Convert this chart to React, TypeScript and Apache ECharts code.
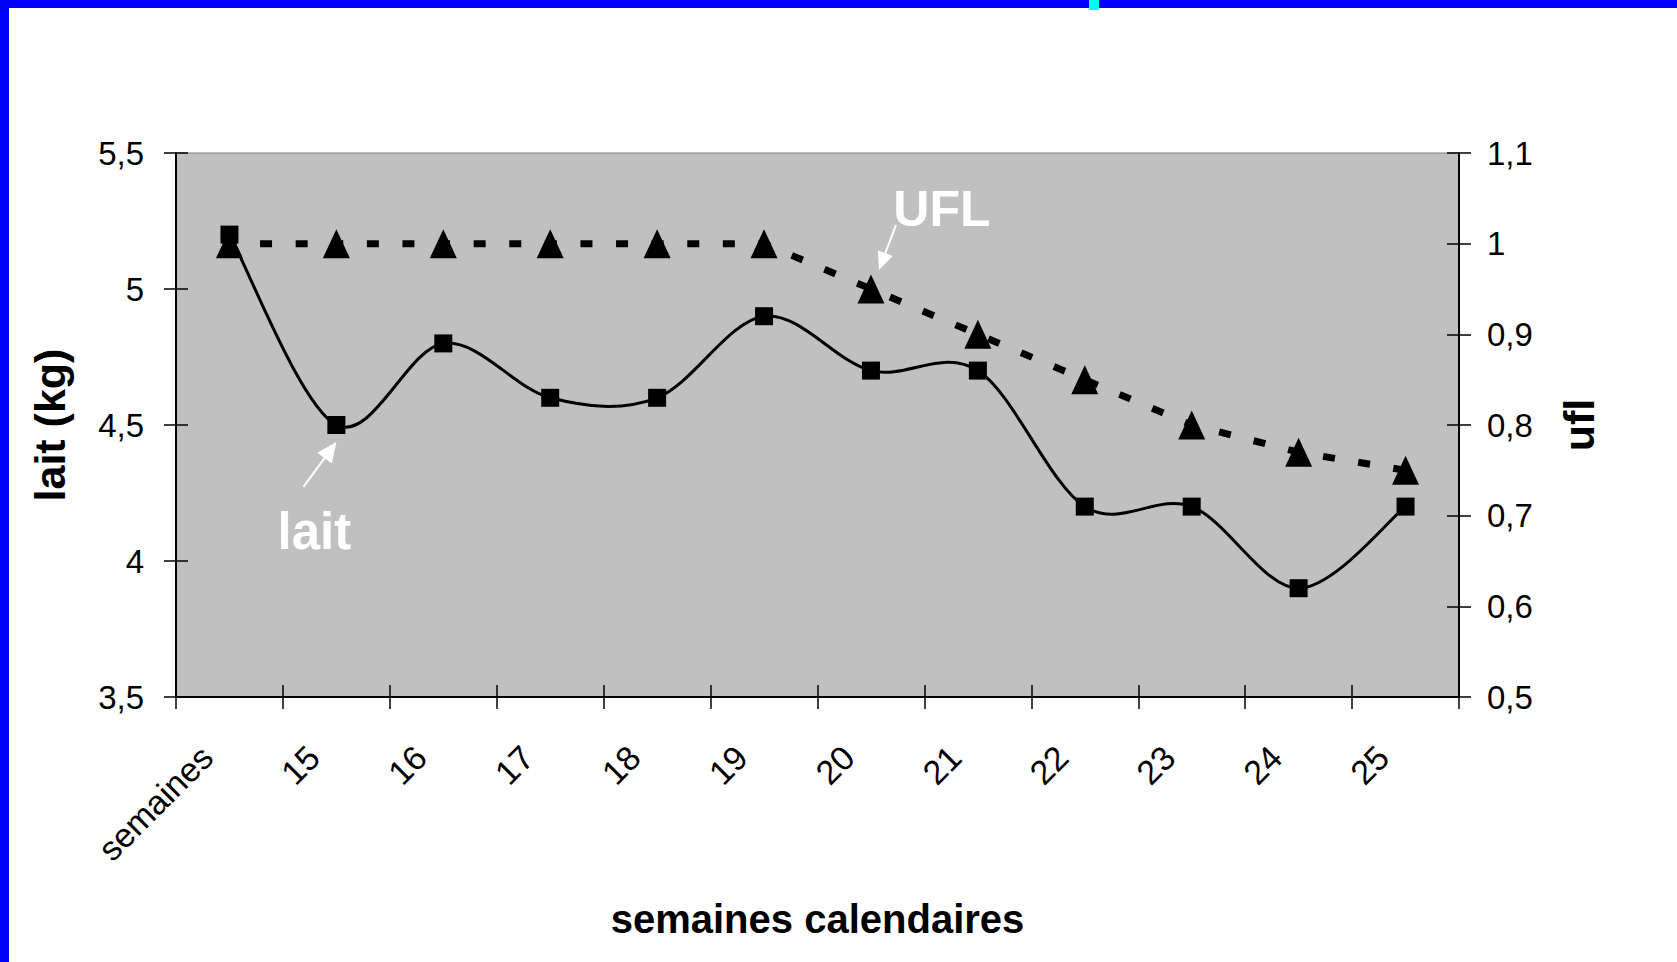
import React, { useEffect, useRef } from 'react';
import * as echarts from 'echarts';

// ---- data ----
const weeks = ['semaines', '15', '16', '17', '18', '19', '20', '21', '22', '23', '24', '25'];
const laitKg = [5.2, 4.5, 4.8, 4.6, 4.6, 4.9, 4.7, 4.7, 4.2, 4.2, 3.9, 4.2];
const uflValues = [1.0, 1.0, 1.0, 1.0, 1.0, 1.0, 0.95, 0.9, 0.85, 0.8, 0.77, 0.75];
const laitRange = [3.5, 5.5];
const laitStep = 0.5;
const uflRange = [0.5, 1.1];
const uflStep = 0.1;

const FONT = '"Liberation Sans", Arial, Helvetica, sans-serif';
const fmt = (v: number) => String(Math.round(v * 100) / 100).replace('.', ',');

function arrow(tail: number[], tip: number[], headLen: number, headW: number) {
  const dx = tip[0] - tail[0];
  const dy = tip[1] - tail[1];
  const L = Math.hypot(dx, dy);
  const ux = dx / L, uy = dy / L;
  const bx = tip[0] - ux * headLen, by = tip[1] - uy * headLen;
  const px = -uy, py = ux;
  return [
    { type: 'line', shape: { x1: tail[0], y1: tail[1], x2: bx, y2: by }, style: { stroke: '#ffffff', lineWidth: 2 }, z: 100 },
    {
      type: 'polygon',
      shape: { points: [[tip[0], tip[1]], [bx + px * headW / 2, by + py * headW / 2], [bx - px * headW / 2, by - py * headW / 2]] },
      style: { fill: '#ffffff' },
      z: 100,
    },
  ];
}

function whiteText(text: string, x: number, y: number, size: number) {
  return {
    type: 'text',
    x,
    y,
    z: 100,
    style: {
      text,
      fill: '#ffffff',
      font: `bold ${size}px ${FONT}`,
      align: 'center',
      verticalAlign: 'middle',
      textAlign: 'center',
      textVerticalAlign: 'middle',
    },
  };
}

export default function App() {
  const ref = useRef<HTMLDivElement>(null);

  useEffect(() => {
    if (!ref.current) return;
    const chart = echarts.init(ref.current, null, { renderer: 'svg' });

    const axisTextX = { color: '#000', fontFamily: FONT, fontSize: 34 };
    const axisTextY = { color: '#000', fontFamily: FONT, fontSize: 33 };
    const nameTextX = { color: '#000', fontFamily: FONT, fontSize: 40, fontWeight: 'bold' as const };
    const nameTextY = { color: '#000', fontFamily: FONT, fontSize: 43, fontWeight: 'bold' as const };

    const n = laitKg.length;
    const clampIdx = (j: number) => Math.max(0, Math.min(n - 1, j));

    const option: any = {
      animation: false,
      backgroundColor: '#ffffff',
      grid: {
        left: 176,
        right: 218,
        top: 153,
        bottom: 265,
        show: true,
        backgroundColor: '#c0c0c0',
        borderColor: '#808080',
        borderWidth: 1,
        containLabel: false,
      },
      xAxis: [
        {
          type: 'category',
          data: weeks,
          boundaryGap: true,
          position: 'bottom',
          axisLine: { show: true, lineStyle: { color: '#000', width: 2 } },
          axisTick: { show: true, inside: false, length: 12, interval: 0, alignWithLabel: false, lineStyle: { color: '#000', width: 1.5 } },
          axisLabel: { ...axisTextX, interval: 0, rotate: 45, margin: 32, padding: [0, 32, 0, 0] },
          splitLine: { show: false },
          name: 'semaines calendaires',
          nameLocation: 'middle',
          nameGap: 202,
          nameTextStyle: nameTextX,
        },
        {
          type: 'category',
          data: weeks,
          boundaryGap: true,
          position: 'bottom',
          axisLine: { show: false },
          axisTick: { show: true, inside: true, length: 12, interval: 0, alignWithLabel: false, lineStyle: { color: '#000', width: 1.5 } },
          axisLabel: { show: false },
          splitLine: { show: false },
        },
      ],
      yAxis: [
        {
          type: 'value',
          position: 'left',
          min: laitRange[0],
          max: laitRange[1],
          interval: laitStep,
          axisLine: { show: true, lineStyle: { color: '#000', width: 2 } },
          axisTick: { show: true, inside: false, length: 12, lineStyle: { color: '#000', width: 1.5 } },
          axisLabel: { ...axisTextY, margin: 32, formatter: fmt },
          splitLine: { show: false },
          name: 'lait (kg)',
          nameLocation: 'middle',
          nameRotate: 90,
          nameGap: 105,
          nameTextStyle: nameTextY,
        },
        {
          type: 'value',
          position: 'right',
          min: uflRange[0],
          max: uflRange[1],
          interval: uflStep,
          axisLine: { show: true, lineStyle: { color: '#000', width: 2 } },
          axisTick: { show: true, inside: false, length: 12, lineStyle: { color: '#000', width: 1.5 } },
          axisLabel: { ...axisTextY, margin: 28, formatter: fmt },
          splitLine: { show: false },
          name: 'ufl',
          nameLocation: 'middle',
          nameRotate: 90,
          nameGap: 98,
          nameTextStyle: nameTextY,
        },
        {
          type: 'value',
          position: 'left',
          min: laitRange[0],
          max: laitRange[1],
          interval: laitStep,
          axisLine: { show: false },
          axisTick: { show: true, inside: true, length: 12, lineStyle: { color: '#000', width: 1.5 } },
          axisLabel: { show: false },
          splitLine: { show: false },
        },
        {
          type: 'value',
          position: 'right',
          min: uflRange[0],
          max: uflRange[1],
          interval: uflStep,
          axisLine: { show: false },
          axisTick: { show: true, inside: true, length: 12, lineStyle: { color: '#000', width: 1.5 } },
          axisLabel: { show: false },
          splitLine: { show: false },
        },
      ],
      series: [
        {
          name: 'UFL',
          type: 'line',
          xAxisIndex: 0,
          yAxisIndex: 1,
          data: uflValues,
          symbol: 'triangle',
          symbolSize: [27, 29],
          itemStyle: { color: '#000' },
          lineStyle: { color: '#000', width: 7, type: [12, 23.6], dashOffset: 4.6, cap: 'butt' },
          emphasis: { disabled: true },
          z: 3,
        },
        {
          // Excel-style (Catmull-Rom) smoothed curve through the lait values
          name: 'lait-curve',
          type: 'custom',
          xAxisIndex: 0,
          yAxisIndex: 0,
          data: laitKg.map((v, i) => [i, v]),
          encode: { x: 0, y: 1 },
          silent: true,
          z: 3,
          renderItem: (params: any, api: any) => {
            const i = params.dataIndex;
            if (i >= n - 1) return null;
            const P = (j: number) => {
              const k = clampIdx(j);
              return api.coord([k, laitKg[k]]);
            };
            const p0 = P(i - 1), p1 = P(i), p2 = P(i + 1), p3 = P(i + 2);
            const t = 1 / 6;
            return {
              type: 'bezierCurve',
              shape: {
                x1: p1[0],
                y1: p1[1],
                x2: p2[0],
                y2: p2[1],
                cpx1: p1[0] + (p2[0] - p0[0]) * t,
                cpy1: p1[1] + (p2[1] - p0[1]) * t,
                cpx2: p2[0] - (p3[0] - p1[0]) * t,
                cpy2: p2[1] - (p3[1] - p1[1]) * t,
              },
              style: { stroke: '#000', lineWidth: 3, fill: 'none' },
            };
          },
        },
        {
          name: 'lait',
          type: 'line',
          xAxisIndex: 0,
          yAxisIndex: 0,
          data: laitKg,
          symbol: 'rect',
          symbolSize: 18,
          itemStyle: { color: '#000' },
          lineStyle: { width: 0, opacity: 0 },
          emphasis: { disabled: true },
          z: 4,
        },
      ],
    };

    chart.setOption(option);

    const iL = weeks.indexOf('15');
    const iU = weeks.indexOf('20');
    const pL = chart.convertToPixel({ seriesIndex: 2 }, [iL, laitKg[iL]]) as number[];
    const pU = chart.convertToPixel({ seriesIndex: 0 }, [iU, uflValues[iU]]) as number[];

    const graphics: any[] = [
      // page frame
      { type: 'rect', shape: { x: 0, y: 0, width: 1677, height: 8 }, style: { fill: '#0000ff' }, z: 200 },
      { type: 'rect', shape: { x: 0, y: 0, width: 9, height: 962 }, style: { fill: '#0000ff' }, z: 200 },
      { type: 'rect', shape: { x: 1089, y: 0, width: 10, height: 10 }, style: { fill: '#00ffff' }, z: 201 },
      // annotations
      ...arrow([pL[0] - 33, pL[1] + 62], [pL[0], pL[1] + 17], 20, 18),
      whiteText('lait', pL[0] - 22, pL[1] + 106, 51),
      ...arrow([pU[0] + 25, pU[1] - 64], [pU[0] + 8, pU[1] - 19], 18, 16),
      whiteText('UFL', pU[0] + 71, pU[1] - 80, 50),
    ];
    chart.setOption({ graphic: graphics });

    return () => chart.dispose();
  }, []);

  return (
    <div
      ref={ref}
      style={{ position: 'fixed', left: 0, top: 0, width: 1677, height: 962, background: '#fff' }}
    />
  );
}
